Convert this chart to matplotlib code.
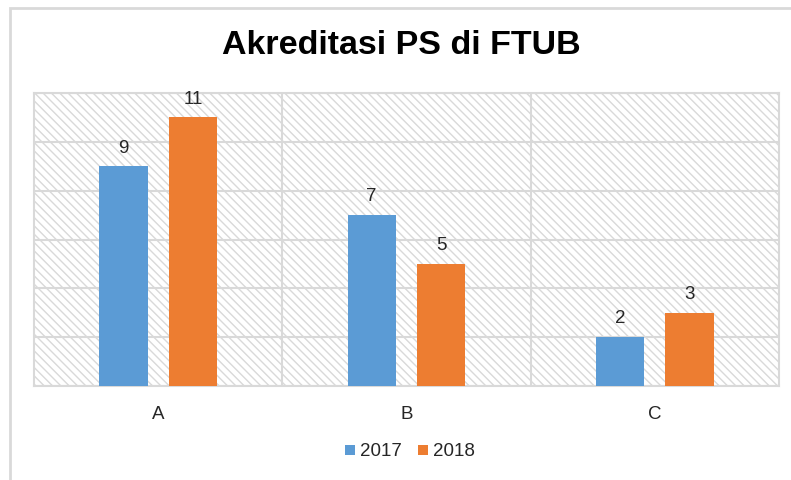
import matplotlib
matplotlib.use("Agg")
import matplotlib.pyplot as plt
import numpy as np
from matplotlib.patches import Rectangle

plt.rcParams['font.family'] = ['Liberation Sans', 'DejaVu Sans']
plt.rcParams['hatch.color'] = '#d9d9d9'
plt.rcParams['hatch.linewidth'] = 1.0

categories = ["A", "B", "C"]
series_names = ["2017", "2018"]
values_2017 = [9, 7, 2]
values_2018 = [11, 5, 3]
colors = ["#5B9BD5", "#ED7D31"]

fig = plt.figure(figsize=(7.91, 4.80), dpi=100)
# outer chart border
fig.patches.append(Rectangle((10/791, -0.1), 1.2, 1 - 8/480 + 0.1, transform=fig.transFigure,
                             fill=False, edgecolor='#d9d9d9', linewidth=2, zorder=0))

ax = fig.add_axes([34/791, 1 - 386/480, (779 - 34)/791, (386 - 93)/480])

x = np.arange(len(categories))
w = 0.195
off = 0.14

ax.add_patch(Rectangle((0, 0), 1, 1, transform=ax.transAxes, facecolor='white',
                       edgecolor='#d9d9d9', linewidth=0, hatch='\\\\\\\\', zorder=0))

b1 = ax.bar(x - off, values_2017, w, color=colors[0], label=series_names[0], zorder=3)
b2 = ax.bar(x + off, values_2018, w, color=colors[1], label=series_names[1], zorder=3)

for bars, vals in ((b1, values_2017), (b2, values_2018)):
    for r, v in zip(bars, vals):
        ax.annotate(str(v), (r.get_x() + r.get_width()/2, r.get_height()),
                    xytext=(0, 7), textcoords='offset points', ha='center', va='bottom',
                    fontsize=13.5, color='#262626')

ax.set_xlim(-0.5, 2.5)
ax.set_ylim(0, 12)
ax.set_yticks(np.arange(0, 13, 2))
ax.yaxis.grid(True, color='#d9d9d9', linewidth=1.5, zorder=1)
ax.set_axisbelow(True)
for xv in (0.5, 1.5):
    ax.axvline(xv, color='#d9d9d9', linewidth=1.5, zorder=1)
ax.tick_params(axis='y', left=False, labelleft=False)
ax.tick_params(axis='x', bottom=False, labelsize=13.5, labelcolor='#262626', pad=11)
ax.set_xticks(x)
ax.set_xticklabels(categories)
for s in ax.spines.values():
    s.set_color('#d9d9d9')
    s.set_linewidth(1.5)

fig.text(401/791, 1 - 46/480, "Akreditasi PS di FTUB", ha='center', va='center',
         fontsize=24.5, fontweight='bold', color='#000000')

fig.legend(handles=[b1, b2], labels=series_names, loc='center', bbox_to_anchor=(410/791, 1 - 452/480),
           ncol=2, frameon=False, fontsize=13.5, handlelength=0.5, handleheight=0.5,
           handletextpad=0.27, columnspacing=0.9, labelcolor='#262626')

fig.savefig("out.png", dpi=100)
